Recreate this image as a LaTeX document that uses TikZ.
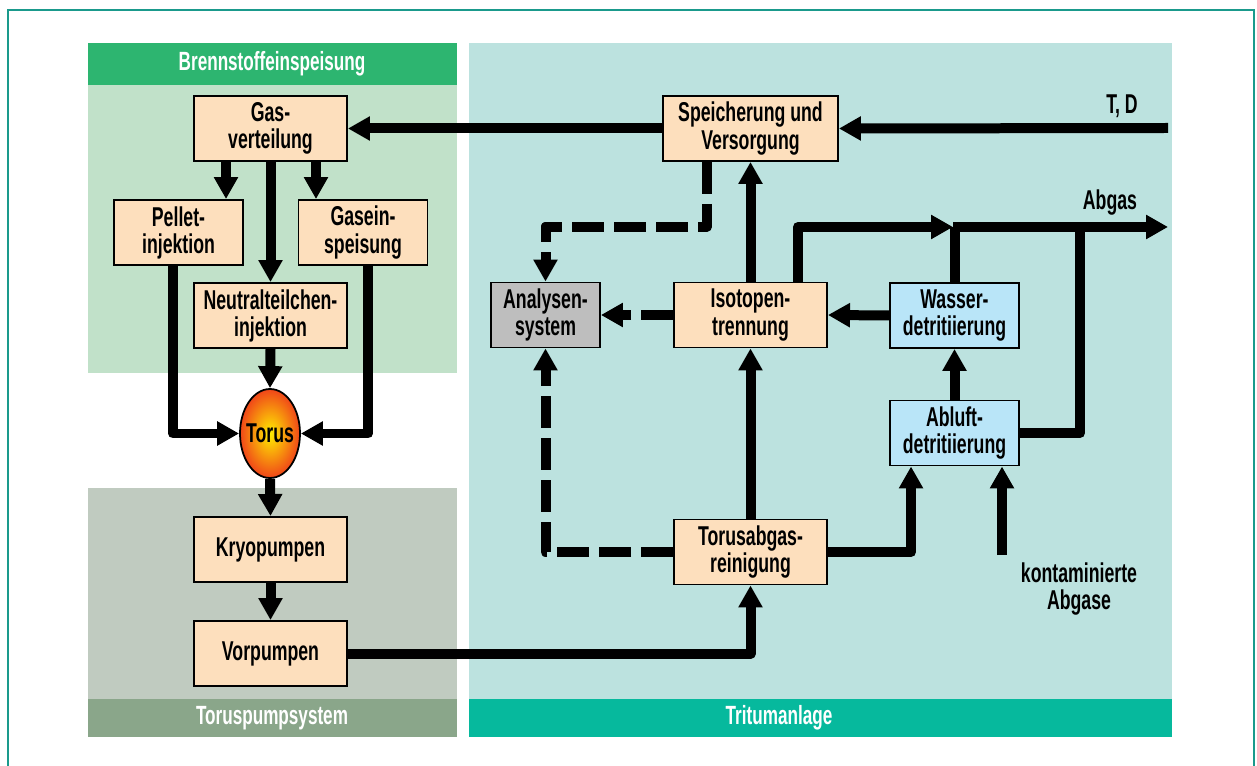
\documentclass[tikz,border=0pt]{standalone}
\usepackage{fontspec}
\setmainfont{Liberation Sans}[FakeStretch=0.65]
\usetikzlibrary{arrows.meta,shapes.geometric}

\definecolor{peach}{HTML}{FDDFBD}
\definecolor{icecol}{HTML}{B9E5F8}
\definecolor{greycol}{HTML}{BEBEBE}
\definecolor{fuelbg}{HTML}{C1E1C9}
\definecolor{fuelhead}{HTML}{2DB570}
\definecolor{pumpbg}{HTML}{C0CBC0}
\definecolor{pumphead}{HTML}{8AA68A}
\definecolor{tritbg}{HTML}{BCE2DF}
\definecolor{trithead}{HTML}{06B99D}
\definecolor{framecol}{HTML}{1A9A8C}

\tikzset{
  block/.style={draw=black, line width=1.1pt, fill=peach, align=center,
    minimum width=3.06cm, minimum height=1.3cm, inner sep=1pt,
    font=\fontsize{15.5}{15.4}\selectfont\bfseries},
  smallblock/.style={block, minimum width=2.58cm},
  detblock/.style={smallblock, fill=icecol},
  label/.style={align=center, font=\fontsize{15.5}{15.4}\selectfont\bfseries},
  headtext/.style={text=white, font=\fontsize{15}{15}\selectfont\bfseries},
  pipe/.style={line width=0.2cm, line join=round},
  flow/.style={pipe, -{Triangle[length=0.44cm,width=0.46cm]}},
  dflow/.style={flow, dash pattern=on 0.64cm off 0.2cm}
}

\begin{document}
\begin{tikzpicture}[x=0.02cm, y=-0.02cm]

        \useasboundingbox (0,0) rectangle (1257,766);

        % Frame
        \draw[framecol, line width=1.5pt] (8,766) -- (8,10) -- (1254,10) -- (1254,766);

        % Background panels
        \fill[fuelbg] (88,85) rectangle (457,373);
        \fill[fuelhead] (88,43) rectangle (457,85);
        \fill[pumpbg] (88,488) rectangle (457,699);
        \fill[pumphead] (88,699) rectangle (457,737);
        \fill[tritbg] (469,43) rectangle (1172,699);
        \fill[trithead] (469,699) rectangle (1172,737);

        \node[headtext] (fuelhdr) at (272,64) {Brennstoffeinspeisung};
        \node[headtext] (pumphdr) at (272,718) {Toruspumpsystem};
        \node[headtext] (trithdr) at (779,718) {Tritumanlage};

        % Fuelling
        \node[block] (gasv) at (270.5,128.5) {Gas-\\verteilung};
        \node[smallblock] (pellet) at (178.5,232.5) {Pellet-\\injektion};
        \node[smallblock] (gasein) at (363,232.5) {Gasein-\\speisung};
        \node[block] (neutral) at (270.5,315.5) {Neutralteilchen-\\injektion};
        \node[ellipse, draw=black, line width=1pt, inner sep=0pt, minimum width=1.2cm, minimum height=1.78cm,
              inner color={rgb,255:red,255;green,238;blue,0}, outer color={rgb,255:red,240;green,70;blue,25},
              font=\fontsize{15.5}{15.4}\selectfont\bfseries] (torus) at (270,433.5) {\makebox[0pt]{Torus}};

        % Pumping
        \node[block] (kryo) at (270.5,549.5) {Kryopumpen};
        \node[block] (vor) at (270.5,653.5) {Vorpumpen};

        % Tritium plant
        \node[block, minimum width=3.5cm] (store) at (750.5,128.5) {Speicherung und\\Versorgung};
        \node[block, fill=greycol, minimum width=2.18cm] (analysis) at (545.5,315) {Analysen-\\system};
        \node[block] (iso) at (750.5,315) {Isotopen-\\trennung};
        \node[detblock] (wasser) at (954.5,315.5) {Wasser-\\detritiierung};
        \node[detblock] (abluft) at (954.5,433) {Abluft-\\detritiierung};
        \node[block] (tap) at (750.5,552) {Torusabgas-\\reinigung};

        \coordinate (tdin) at (1168,128);
        \coordinate (junction) at (953,227);
        \coordinate (abgasout) at (1168,227);
        \coordinate (riser) at (1080,227);
        \coordinate (kont) at (1002,555);
        \node[label] (tdlabel) at (1122,106) {T, D};
        \node[label] (abgaslabel) at (1110,203) {Abgas};
        \node[label] (kontlabel) at (1079,589) {kontaminierte\\Abgase};

        % Fuel lines
        \draw[flow] (tdin) -- (store.east);
        \draw[flow] (store.west) -- (gasv.east);
        \draw[flow] ([xshift=-0.89cm]gasv.south) -- ([xshift=-0.89cm]gasv.south |- pellet.north);
        \draw[flow] ([xshift=0.91cm]gasv.south) -- ([xshift=0.91cm]gasv.south |- gasein.north);
        \draw[flow] (gasv.south) -- (neutral.north);
        \draw[flow] ([xshift=-0.11cm]pellet.south) |- (torus.west);
        \draw[flow] ([xshift=0.1cm]gasein.south) |- (torus.east);
        \draw[flow] (neutral.south) -- (torus.north);
        \draw[flow] (torus.south) -- (kryo.north);
        \draw[flow] (kryo.south) -- (vor.north);

        % Exhaust processing
        \draw[flow] (vor.east) -| (tap.south);
        \draw[flow] (tap.north) -- (iso.south);
        \draw[flow] (iso.north) -- (store.south);
        \draw[flow] (tap.east) -| ([xshift=-0.87cm]abluft.south);
        \draw[flow] (kont) -- (kont |- abluft.south);
        \draw[flow] (abluft.north) -- (wasser.south);
        \draw[flow] (wasser.west) -- (iso.east);

        % Abgas
        \draw[flow] ([xshift=0.95cm]iso.north) |- (junction);
        \draw[pipe] (wasser.north) -- (wasser.north |- junction);
        \draw[pipe] (abluft.east) -| (riser);
        \draw[flow] (junction) -- (abgasout);

        % Analysis (dashed)
        \draw[dflow] ([xshift=-0.87cm]store.south) |- ([yshift=1.1cm]analysis.north) -- (analysis.north);
        \draw[dflow] (iso.west) -- (analysis.east);
        \draw[dflow] (tap.west) -| (analysis.south);

    \end{tikzpicture}
\end{document}
